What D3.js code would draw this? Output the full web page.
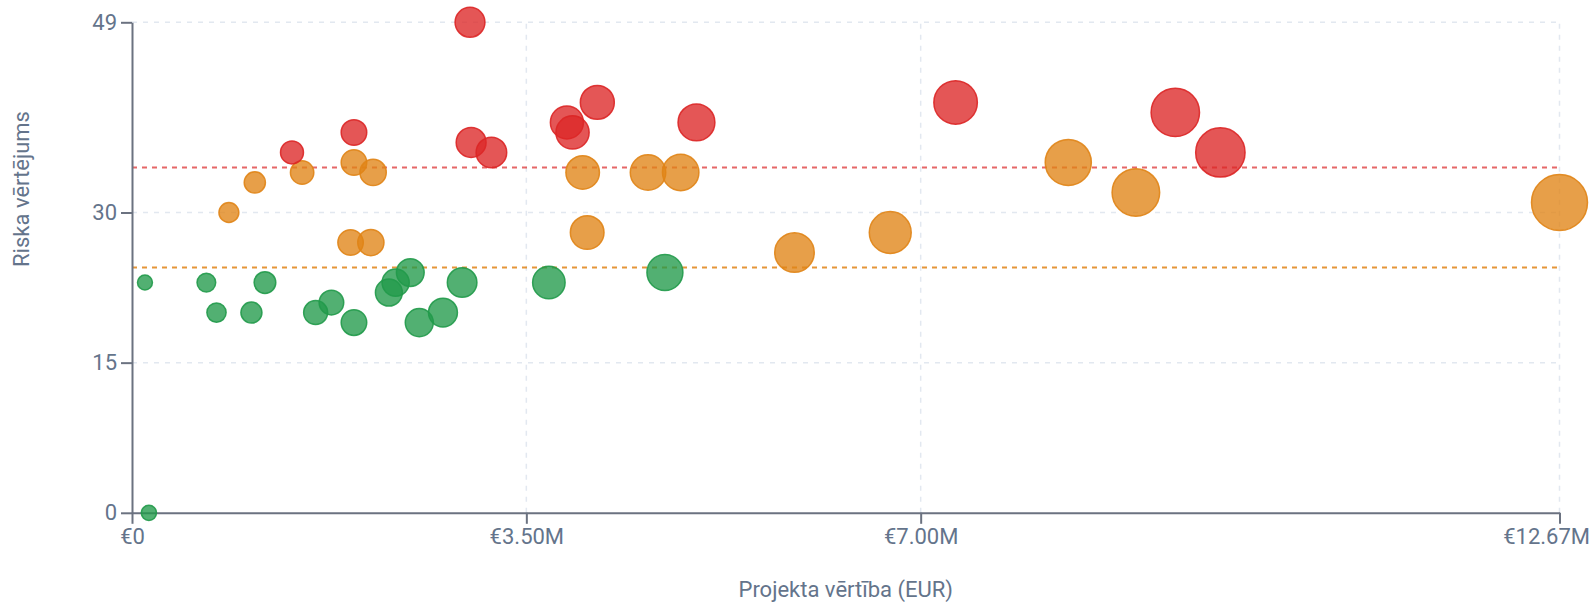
<!DOCTYPE html>
<html>
<head>
<meta charset="utf-8">
<script src="https://cdn.jsdelivr.net/npm/d3@7"></script>
<style>
  html, body { margin: 0; padding: 0; background: #ffffff; }
  svg { display: block; font-family: Roboto, "Noto Sans", sans-serif; }
</style>
</head>
<body>
<svg id="chart" width="1593" height="602"></svg>
<script>
// ---- data (project value in EUR, risk score) ----
const greenValue = [0.115e6, 0.66e6, 1.18e6, 0.75e6, 1.06e6, 1.63e6, 1.77e6, 1.97e6, 2.28e6, 2.34e6, 2.47e6, 2.55e6, 2.76e6, 2.93e6, 3.70e6, 4.73e6, 0.15e6];
const greenRisk  = [23, 23, 23, 20, 20, 20, 21, 19, 22, 23, 24, 19, 20, 23, 23, 24, 0];

const orangeValue = [1.97e6, 1.51e6, 2.14e6, 1.09e6, 0.86e6, 1.94e6, 2.12e6, 4.00e6, 4.58e6, 4.87e6, 4.04e6, 5.88e6, 6.73e6, 8.31e6, 8.91e6, 12.67e6];
const orangeRisk  = [35, 34, 34, 33, 30, 27, 27, 34, 34, 34, 28, 26, 28, 35, 32, 31];

const redValue = [3.0e6, 1.97e6, 1.42e6, 3.01e6, 3.19e6, 4.13e6, 3.86e6, 3.91e6, 5.01e6, 7.31e6, 9.26e6, 9.66e6];
const redRisk  = [49, 38, 36, 37, 36, 41, 39, 38, 39, 41, 40, 36];

const thresholdValues = [34.5, 24.5];
const xTickValues = [0, 3.5e6, 7e6, 12.67e6];
const xTickLabels = ["€0", "€3.50M", "€7.00M", "€12.67M"];
const yTickValues = [0, 15, 30, 49];
const xTitle = "Projekta vērtība (EUR)";
const yTitle = "Riska vērtējums";

// ---- setup ----
const W = 1593, H = 602;
const margin = { left: 132, right: 33.5, top: 22.3, bottom: 89.2 };
const svg = d3.select("#chart");

const x = d3.scaleLinear().domain([0, 12.67e6]).range([margin.left, W - margin.right]);
const y = d3.scaleLinear().domain([0, 49]).range([H - margin.bottom, margin.top]);
const area = d3.scaleLinear().domain([0, 12.67e6]).range([49, 784]);
const radius = v => Math.sqrt(area(v));

const colors = { green: "#219a4a", orange: "#e08416", red: "#dc2626" };

// grid
const grid = svg.append("g");
grid.selectAll("line.h").data(yTickValues.filter(d => d > 0)).join("line")
  .attr("x1", x(0)).attr("x2", x(12.67e6))
  .attr("y1", d => y(d)).attr("y2", d => y(d))
  .attr("stroke", "#e2e8f0").attr("stroke-width", 1.5).attr("stroke-dasharray", "5,6");
grid.selectAll("line.v").data(xTickValues.filter(d => d > 0)).join("line")
  .attr("x1", d => x(d)).attr("x2", d => x(d))
  .attr("y1", y(0)).attr("y2", y(49))
  .attr("stroke", "#e2e8f0").attr("stroke-width", 1.5).attr("stroke-dasharray", "5,6");

// threshold lines
const thrColors = [colors.red, colors.orange];
svg.append("g").selectAll("line").data(thresholdValues).join("line")
  .attr("x1", x(0)).attr("x2", x(12.67e6))
  .attr("y1", d => y(d)).attr("y2", d => y(d))
  .attr("stroke", (d, i) => thrColors[i])
  .attr("stroke-opacity", (d, i) => i === 0 ? 0.7 : 0.85)
  .attr("stroke-width", 2).attr("stroke-dasharray", "5,5");

// axes
const fontSize = "22px";
const textColor = "#64748b";
const axisColor = "#6b7280";

const xAxis = svg.append("g").attr("transform", `translate(0,${y(0)})`)
  .call(d3.axisBottom(x).tickValues(xTickValues).tickFormat((d, i) => xTickLabels[i])
    .tickSize(11).tickSizeOuter(0).tickPadding(5));
const yAxis = svg.append("g").attr("transform", `translate(${x(0)},0)`)
  .call(d3.axisLeft(y).tickValues(yTickValues).tickFormat(d3.format("d"))
    .tickSize(11).tickSizeOuter(0).tickPadding(4));

[xAxis, yAxis].forEach(a => {
  a.select(".domain").attr("stroke", axisColor).attr("stroke-width", 2);
  a.selectAll(".tick line").attr("stroke", axisColor).attr("stroke-width", 2);
  a.selectAll(".tick text").attr("fill", textColor).style("font-size", fontSize)
    .style("font-family", "Roboto, 'Noto Sans', sans-serif");
});
// keep the last x label inside the frame
xAxis.selectAll(".tick text").filter((d, i, n) => i === n.length - 1)
  .attr("text-anchor", "end").attr("x", 30);

// titles
svg.append("text").attr("x", (x(0) + x(12.67e6)) / 2).attr("y", 597)
  .attr("text-anchor", "middle").attr("fill", textColor).style("font-size", fontSize)
  .text(xTitle);
svg.append("text").attr("transform", "translate(29,189) rotate(-90)")
  .attr("text-anchor", "middle").attr("fill", textColor).style("font-size", fontSize)
  .text(yTitle);

// points
const series = [
  { name: "green", values: greenValue, risks: greenRisk },
  { name: "orange", values: orangeValue, risks: orangeRisk },
  { name: "red", values: redValue, risks: redRisk }
];
const pts = svg.append("g");
series.forEach(s => {
  const data = s.values.map((v, i) => ({ v, r: s.risks[i] }));
  pts.append("g").selectAll("circle").data(data).join("circle")
    .attr("cx", d => x(d.v)).attr("cy", d => y(d.r)).attr("r", d => radius(d.v))
    .attr("fill", colors[s.name]).attr("fill-opacity", 0.78)
    .attr("stroke", colors[s.name]).attr("stroke-width", 1.5).attr("stroke-opacity", 0.9);
});
</script>
</body>
</html>
